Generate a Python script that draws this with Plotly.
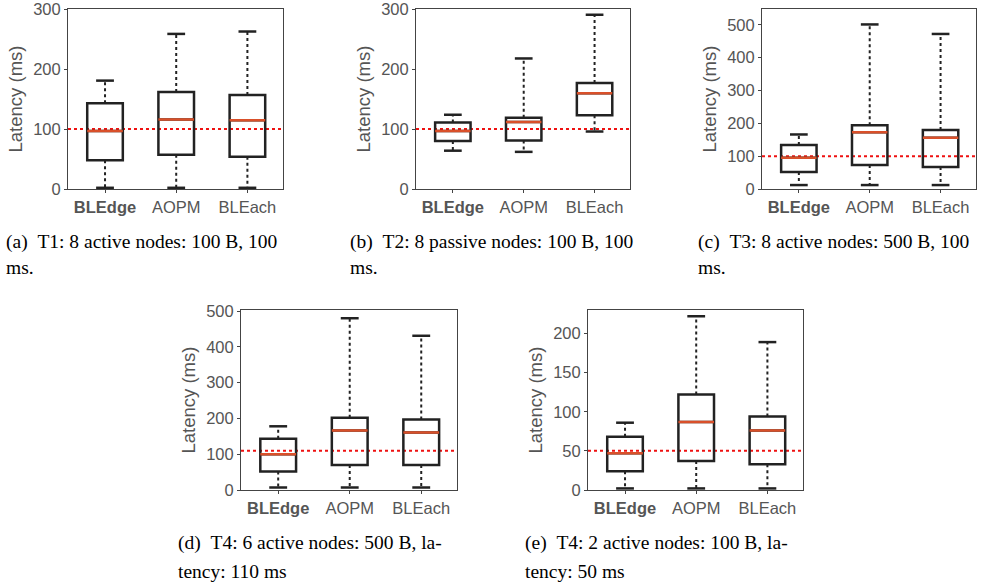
import plotly.graph_objects as go

categories = ["BLEdge", "AOPM", "BLEach"]
tick_text = ["<b>BLEdge</b>", "AOPM", "BLEach"]

# panel (a)
low_a = [2, 2, 2]
q1_a = [48, 57, 54]
med_a = [97, 116, 115]
q3_a = [143, 162, 157]
high_a = [181, 259, 263]
ref_a = 100

# panel (b)
low_b = [64, 62, 96]
q1_b = [80, 81, 123]
med_b = [97, 112, 160]
q3_b = [111, 119, 177]
high_b = [124, 218, 291]
ref_b = 100

# panel (c)
low_c = [12, 12, 12]
q1_c = [52, 73, 67]
med_c = [95, 173, 156]
q3_c = [134, 194, 180]
high_c = [166, 501, 472]
ref_c = 100

# panel (d)
low_d = [7, 7, 7]
q1_d = [52, 70, 70]
med_d = [100, 166, 161]
q3_d = [143, 202, 197]
high_d = [178, 480, 431]
ref_d = 110

# panel (e)
low_e = [2, 2, 2]
q1_e = [24, 37, 33]
med_e = [47, 87, 76]
q3_e = [68, 122, 94]
high_e = [86, 222, 189]
ref_e = 50

captions = [
    ["(a)\u00a0\u00a0T1: 8 active nodes: 100 B, 100", "ms."],
    ["(b)\u00a0\u00a0T2: 8 passive nodes: 100 B, 100", "ms."],
    ["(c)\u00a0\u00a0T3: 8 active nodes: 500 B, 100", "ms."],
    ["(d)\u00a0\u00a0T4: 6 active nodes: 500 B, la-", "tency: 110 ms"],
    ["(e)\u00a0\u00a0T4: 2 active nodes: 100 B, la-", "tency: 50 ms"],
]

W, H = 991, 586
# plot area pixel boxes: (left, right, top, bottom)
boxes = [(68, 283, 9, 189), (416, 630, 9, 189), (762, 976, 9, 189),
         (241, 457, 310, 490), (588, 803, 310, 490)]
yranges = [[0, 300.6], [0, 300.6], [0, 548], [0, 503], [0, 230]]
ydticks = [100, 100, 100, 100, 50]
cap_pos = [(4, 242, 267), (348, 242, 267), (696, 242, 267),
           (176, 543, 571), (523, 543, 571)]

panels = [
    (low_a, q1_a, med_a, q3_a, high_a, ref_a),
    (low_b, q1_b, med_b, q3_b, high_b, ref_b),
    (low_c, q1_c, med_c, q3_c, high_c, ref_c),
    (low_d, q1_d, med_d, q3_d, high_d, ref_d),
    (low_e, q1_e, med_e, q3_e, high_e, ref_e),
]

BOXW = 0.5
CAPW = 0.25
LINEC = "#222222"
MEDC = "#d9502a"
TICKC = "#555555"
SANS = "Liberation Sans, Arial, sans-serif"
SERIF = "Liberation Serif, Times New Roman, serif"

fig = go.Figure()
layout = dict(
    width=W, height=H, margin=dict(l=0, r=0, t=0, b=0, autoexpand=False),
    paper_bgcolor="white", plot_bgcolor="white", showlegend=False,
    shapes=[], annotations=[],
)

for k, (low, q1, med, q3, high, ref) in enumerate(panels):
    n = k + 1
    xa = "x" if n == 1 else f"x{n}"
    ya = "y" if n == 1 else f"y{n}"
    xs = list(range(len(categories)))

    # whiskers (dotted)
    wx, wy = [], []
    for i in xs:
        wx += [i, i, None, i, i, None]
        wy += [q3[i], high[i], None, q1[i], low[i], None]
    fig.add_trace(go.Scatter(x=wx, y=wy, mode="lines", xaxis=xa, yaxis=ya,
                             line=dict(color=LINEC, width=2, dash="dot"),
                             cliponaxis=False, hoverinfo="skip"))
    # box body
    fig.add_trace(go.Box(x=xs, q1=q1, median=med, q3=q3,
                         lowerfence=q1, upperfence=q3,
                         width=BOXW, whiskerwidth=0, boxpoints=False,
                         line=dict(color=LINEC, width=2.5),
                         fillcolor="rgba(0,0,0,0)",
                         xaxis=xa, yaxis=ya))
    # caps
    cx, cy = [], []
    for i in xs:
        cx += [i - CAPW / 2, i + CAPW / 2, None, i - CAPW / 2, i + CAPW / 2, None]
        cy += [high[i], high[i], None, low[i], low[i], None]
    fig.add_trace(go.Scatter(x=cx, y=cy, mode="lines", xaxis=xa, yaxis=ya,
                             line=dict(color=LINEC, width=2.5),
                             cliponaxis=False, hoverinfo="skip"))
    # medians
    mx, my = [], []
    for i in xs:
        mx += [i - BOXW / 2, i + BOXW / 2, None]
        my += [med[i], med[i], None]
    fig.add_trace(go.Scatter(x=mx, y=my, mode="lines", xaxis=xa, yaxis=ya,
                             line=dict(color=MEDC, width=2.5),
                             cliponaxis=False, hoverinfo="skip"))

    l, r, t, b = boxes[k]
    xkey = "xaxis" if n == 1 else f"xaxis{n}"
    ykey = "yaxis" if n == 1 else f"yaxis{n}"
    layout[xkey] = dict(
        domain=[l / W, r / W], anchor=ya, range=[-0.52, 2.5],
        tickmode="array", tickvals=xs, ticktext=tick_text,
        showline=True, linecolor="#444444", linewidth=1, mirror=True,
        ticks="outside", ticklen=3, tickcolor="#444444",
        showgrid=False, zeroline=False, automargin=False,
        tickfont=dict(family=SANS, size=16.5, color=TICKC),
    )
    layout[ykey] = dict(
        domain=[1 - b / H, 1 - t / H], anchor=xa, range=yranges[k],
        tickmode="linear", dtick=ydticks[k], tick0=0,
        showline=True, linecolor="#444444", linewidth=1, mirror=True,
        ticks="outside", ticklen=3, tickcolor="#444444",
        showgrid=False, zeroline=False, automargin=False,
        tickfont=dict(family=SANS, size=16.5, color=TICKC),
        title=dict(text="Latency (ms)", standoff=5,
                   font=dict(family=SANS, size=18.5, color=TICKC)),
    )
    layout["shapes"].append(dict(
        type="line", xref=f"{xa} domain", yref=ya, x0=0, x1=1, y0=ref, y1=ref,
        line=dict(color="#ee1111", width=2, dash="dot"), layer="below"))

    cxp, y1p, y2p = cap_pos[k]
    for line_text, yp in zip(captions[k], (y1p, y2p)):
        layout["annotations"].append(dict(
            text=line_text, xref="paper", yref="paper",
            x=cxp / W, y=1 - yp / H, xanchor="left", yanchor="middle",
            showarrow=False, align="left",
            font=dict(family=SERIF, size=19.5, color="black")))

fig.update_layout(**layout)
fig.write_html(
    "out.html",
    config={"displayModeBar": False},
    post_script="document.body.style.margin='0';document.body.style.padding='0';",
)
